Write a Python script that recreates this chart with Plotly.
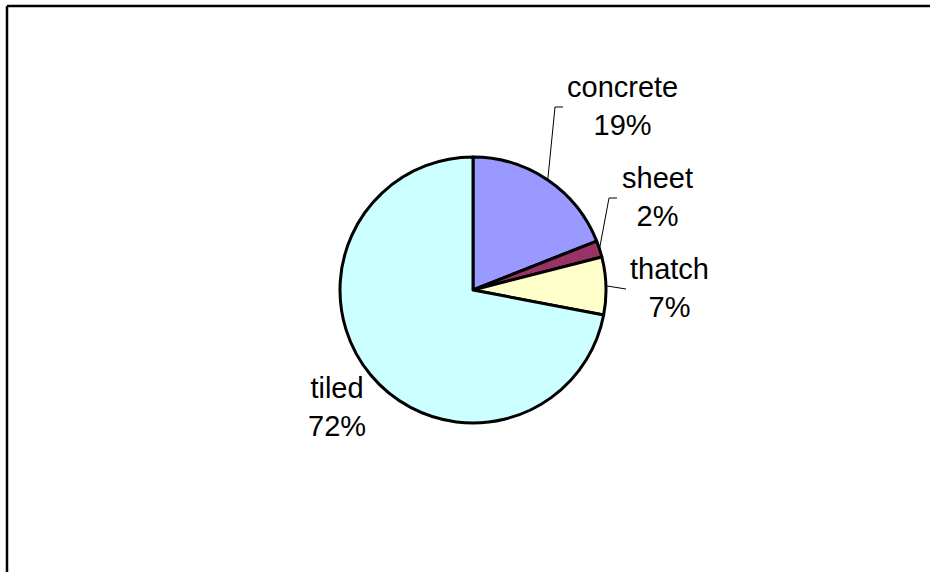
import math
import plotly.graph_objects as go

# Roof material shares
materials = ["concrete", "sheet", "thatch", "tiled"]
shares = [19, 2, 7, 72]
colors = ["#9999FF", "#993366", "#FFFFCC", "#CCFFFF"]

W, H = 930, 572
CX, CY, R = 473, 290, 133  # pie centre and radius in pixels


def px(x):
    return x / W


def py(y):
    return 1 - y / H


# label block centres (pixels)
label_pos = {
    "concrete": (622, 106),
    "sheet": (657, 197),
    "thatch": (669, 288),
    "tiled": (337, 407),
}
# where each leader line meets its label
leader_end = {
    "concrete": (563, 107),
    "sheet": (617, 198),
    "thatch": (626, 289),
}

fig = go.Figure()
fig.add_trace(go.Pie(
    labels=materials,
    values=shares,
    sort=False,
    direction="clockwise",
    rotation=0,
    textinfo="none",
    hoverinfo="label+percent",
    marker=dict(colors=colors, line=dict(color="black", width=3)),
    domain=dict(x=[px(CX - R), px(CX + R)], y=[py(CY + R), py(CY - R)]),
    showlegend=False,
))

total = sum(shares)
annotations = []
shapes = []
cum = 0
for name, v in zip(materials, shares):
    mid = (cum + v / 2) / total * 2 * math.pi
    cum += v
    pct = round(v / total * 100)
    lx, ly = label_pos[name]
    annotations.append(dict(
        x=px(lx), y=py(ly), xref="paper", yref="paper",
        text=f"{name}<br>{pct}%", showarrow=False,
        font=dict(family="Liberation Sans, Arial, sans-serif", size=29, color="black"),
        align="center", xanchor="center", yanchor="middle",
    ))
    if name in leader_end:
        ex, ey = leader_end[name]
        sx = CX + R * math.sin(mid)
        sy = CY - R * math.cos(mid)
        if abs(ey - sy) > 4:
            bx = ex - 8
            path = f"M {px(sx)} {py(sy)} L {px(bx)} {py(ey)} L {px(ex)} {py(ey)}"
        else:
            path = f"M {px(sx)} {py(sy)} L {px(ex)} {py(ey)}"
        shapes.append(dict(type="path", xref="paper", yref="paper", path=path,
                           line=dict(color="black", width=1)))

# chart area frame: left and top edges
shapes.append(dict(type="line", xref="paper", yref="paper",
                   x0=px(7), y0=0, x1=px(7), y1=py(6),
                   line=dict(color="black", width=2.5)))
shapes.append(dict(type="line", xref="paper", yref="paper",
                   x0=px(7), y0=py(6), x1=1, y1=py(6),
                   line=dict(color="black", width=2.5)))

fig.update_layout(
    width=W, height=H,
    autosize=False,
    margin=dict(l=0, r=0, t=0, b=0, pad=0),
    paper_bgcolor="white",
    plot_bgcolor="white",
    annotations=annotations,
    shapes=shapes,
)

fig.write_html("out.html", config={"displayModeBar": False})
